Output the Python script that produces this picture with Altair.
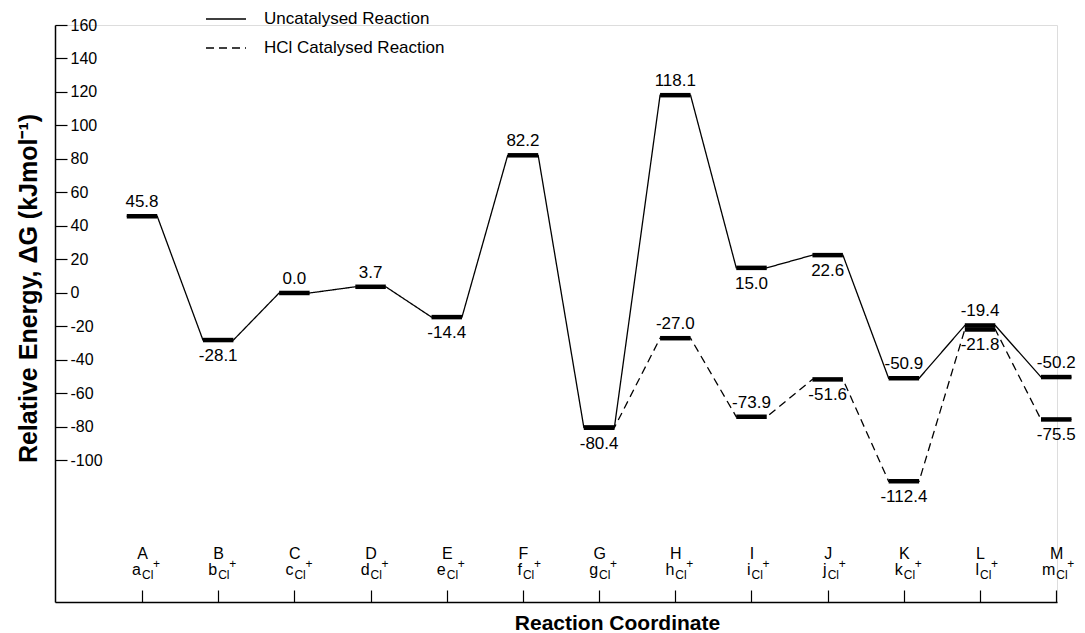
import json
import altair as alt
import pandas as pd

# ---------------- data ----------------
points = ["A", "B", "C", "D", "E", "F", "G", "H", "I", "J", "K", "L", "M"]
sub_letters = ["a", "b", "c", "d", "e", "f", "g", "h", "i", "j", "k", "l", "m"]
uncat_values = [45.8, -28.1, 0.0, 3.7, -14.4, 82.2, -80.4, 118.1, 15.0, 22.6, -50.9, -19.4, -50.2]
uncat_label_side = ["above", "below", "above", "above", "below", "above", "below",
                    "above", "below", "below", "above", "above", "above"]
cat_points = ["G", "H", "I", "J", "K", "L", "M"]
cat_values = [-80.4, -27.0, -73.9, -51.6, -112.4, -21.8, -75.5]
cat_label_side = ["none", "above", "above", "below", "below", "below", "below"]
y_tick_values = list(range(-100, 161, 20))
series_names = ["Uncatalysed Reaction", "HCl Catalysed Reaction"]

# ---------------- styles ----------------
W, H = 1002, 577
HALF = 0.2          # half width of an energy level bar (x units)
FONT = "Liberation Sans"

levels = []
for p, v, s in zip(points, uncat_values, uncat_label_side):
    levels.append(dict(series=series_names[0], idx=points.index(p), value=v,
                       label=f"{v:.1f}", side=s))
for p, v, s in zip(cat_points, cat_values, cat_label_side):
    levels.append(dict(series=series_names[1], idx=points.index(p), value=v,
                       label=f"{v:.1f}", side=s))
levels = pd.DataFrame(levels)

line_rows = []
for ser, grp in levels.groupby("series", sort=False):
    seq = 0
    for _, r in grp.sort_values("idx").iterrows():
        for off in (-HALF, HALF):
            line_rows.append(dict(series=ser, x=r["idx"] + off, value=r["value"], seq=seq))
            seq += 1
line_df = pd.DataFrame(line_rows)

sub_df = pd.DataFrame(dict(idx=list(range(len(points))), letter=sub_letters))

x_scale = alt.Scale(domain=[-1.142, 12.01], nice=False, zero=False)
y_scale = alt.Scale(domain=[-184.5, 160], nice=False, zero=False)

x_axis = alt.Axis(
    orient="top", offset=-H, values=list(range(len(points))),
    labelExpr=json.dumps(points) + "[datum.value]",
    tickSize=12, tickColor="black", tickWidth=1.2,
    domainColor="black", domainWidth=1.5,
    labelFont=FONT, labelFontSize=16, labelColor="black", labelPadding=32,
    labelAlign="center", labelBaseline="alphabetic",
    grid=False,
    title="Reaction Coordinate", titleFont=FONT, titleFontSize=21, titleFontWeight="bold",
    titleColor="black", titleX=562, titleY=21, titleAlign="center", titleBaseline="middle",
    titleAngle=0,
)
y_axis = alt.Axis(
    orient="right", offset=-W, values=y_tick_values,
    labelExpr="'' + datum.value",
    tickSize=12, tickColor="black", tickWidth=1.2,
    domainColor="black", domainWidth=1.5,
    labelFont=FONT, labelFontSize=16, labelColor="black", labelPadding=3,
    labelAlign="left", labelBaseline="middle",
    grid=False,
    title="Relative Energy, ΔG (kJmol⁻¹)", titleFont=FONT, titleFontSize=25,
    titleFontWeight="bold", titleColor="black", titleAngle=270,
    titleX=-27, titleY=263, titleAlign="center", titleBaseline="middle",
)

lines = alt.Chart(line_df).mark_line(color="black", strokeWidth=1.3).encode(
    x=alt.X("x:Q", scale=x_scale, axis=x_axis),
    y=alt.Y("value:Q", scale=y_scale, axis=y_axis),
    strokeDash=alt.StrokeDash(
        "series:N",
        scale=alt.Scale(domain=series_names, range=[[1, 0], [8, 5]]),
        legend=alt.Legend(
            title=None, orient="none", legendX=150, legendY=-27,
            symbolType="stroke", symbolSize=1600, symbolStrokeColor="black",
            symbolStrokeWidth=1.3, labelFont=FONT, labelFontSize=17,
            labelColor="black", labelOffset=17, rowPadding=-15, padding=0,
            labelLimit=0,
        ),
    ),
    order="seq:Q",
)

bars = alt.Chart(levels).transform_calculate(
    x0=f"datum.idx - {HALF}", x1=f"datum.idx + {HALF}"
).mark_rule(color="black", strokeWidth=4.5).encode(
    x=alt.X("x0:Q", scale=x_scale),
    x2="x1:Q",
    y=alt.Y("value:Q", scale=y_scale),
)

labels_above = alt.Chart(levels).transform_filter(alt.datum.side == "above").mark_text(
    font=FONT, fontSize=17, color="black", dy=-14, baseline="middle"
).encode(x=alt.X("idx:Q", scale=x_scale), y=alt.Y("value:Q", scale=y_scale), text="label:N")

labels_below = alt.Chart(levels).transform_filter(alt.datum.side == "below").mark_text(
    font=FONT, fontSize=17, color="black", dy=16, baseline="middle"
).encode(x=alt.X("idx:Q", scale=x_scale), y=alt.Y("value:Q", scale=y_scale), text="label:N")

sub_letter = alt.Chart(sub_df).mark_text(
    font=FONT, fontSize=16, color="black", align="right", baseline="alphabetic", dx=-1
).encode(x=alt.X("idx:Q", scale=x_scale), y=alt.value(H - 27), text="letter:N")

sub_cl = alt.Chart(sub_df).transform_calculate(t="'Cl'").mark_text(
    font=FONT, fontSize=12, color="black", align="left", baseline="alphabetic", dx=0
).encode(x=alt.X("idx:Q", scale=x_scale), y=alt.value(H - 23), text="t:N")

sub_plus = alt.Chart(sub_df).transform_calculate(t="'+'").mark_text(
    font=FONT, fontSize=12, color="black", align="left", baseline="alphabetic", dx=11
).encode(x=alt.X("idx:Q", scale=x_scale), y=alt.value(H - 34), text="t:N")

chart = alt.layer(
    lines, bars, labels_above, labels_below, sub_letter, sub_cl, sub_plus
).properties(
    width=W, height=H,
    autosize=alt.AutoSizeParams(type="none"),
    padding={"left": 55, "top": 25, "right": 28, "bottom": 31},
).configure_view(stroke=None).configure(background="white")

chart.save("out.html", embed_options={"renderer": "svg", "actions": False})
